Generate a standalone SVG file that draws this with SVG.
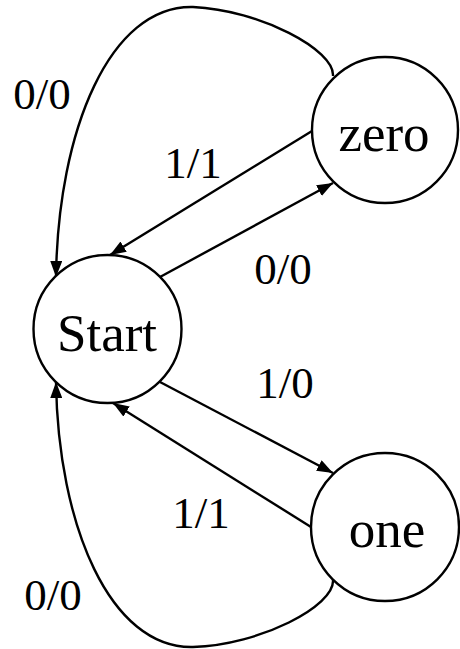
<svg xmlns="http://www.w3.org/2000/svg" width="460" height="649" viewBox="0 0 460 649">
<style>
.node{fill:#fff;stroke:#000;stroke-width:2.4}
.nl{font-family:"Liberation Serif","Times New Roman",serif;font-size:53px;text-anchor:middle;fill:#000}
.el{font-family:"Liberation Serif","Times New Roman",serif;font-size:45px;text-anchor:middle;fill:#000}
.edge{fill:none;stroke:#000;stroke-width:2.4;marker-end:url(#arr)}
</style>
<defs>
<marker id="arr" markerUnits="userSpaceOnUse" markerWidth="17" markerHeight="12" refX="16" refY="6" orient="auto">
<path d="M0,0 L16,6 L0,12 Z" fill="#000"/>
</marker>
</defs>
<g id="edges">
<path class="edge" d="M333,76 C335,50 260,10 193,7 C110,5 58,130 56,277"/>
<path class="edge" d="M312,131 L110,255"/>
<path class="edge" d="M160,277 L333,183"/>
<path class="edge" d="M160,382 L333,473"/>
<path class="edge" d="M311,527 L113,403"/>
<path class="edge" d="M333,580 C335,606 260,645 193,647 C110,649 58,525 56,382"/>
</g>
<g id="labels">
<text class="el" x="42" y="109">0/0</text>
<text class="el" x="193" y="178">1/1</text>
<text class="el" x="283" y="284">0/0</text>
<text class="el" x="285" y="398">1/0</text>
<text class="el" x="201" y="528">1/1</text>
<text class="el" x="53" y="610">0/0</text>
</g>
<g id="node-start">
<circle class="node" cx="107.5" cy="329" r="74"/>
<text class="nl" x="107" y="351">Start</text>
</g>
<g id="node-zero">
<circle class="node" cx="385" cy="130" r="73"/>
<text class="nl" x="384" y="151">zero</text>
</g>
<g id="node-one">
<circle class="node" cx="385" cy="527" r="74"/>
<text class="nl" x="387" y="547">one</text>
</g>
</svg>
